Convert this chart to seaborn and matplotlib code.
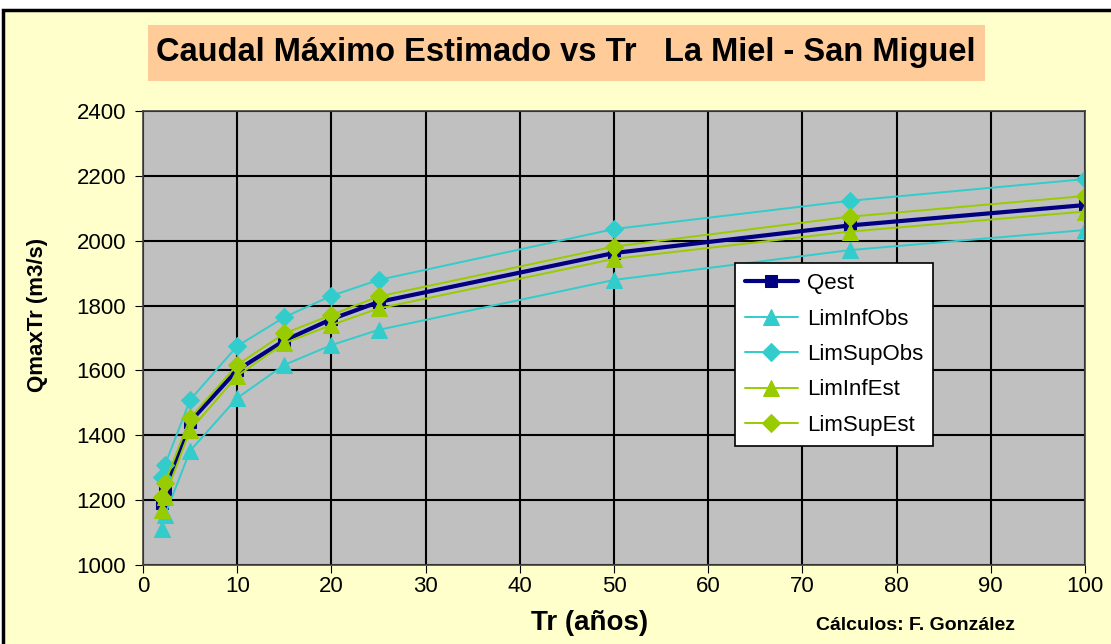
import numpy as np
import pandas as pd
import matplotlib
matplotlib.use("Agg")
import matplotlib.pyplot as plt
import seaborn as sns
from matplotlib.patches import Rectangle

# periodos de retorno y caudales
tr = [2, 2.33, 5, 10, 15, 20, 25, 50, 75, 100]
qest = [1191, 1231, 1442, 1601, 1692, 1758, 1811, 1962, 2047, 2110]
lim_inf_obs = [1111, 1154, 1352, 1515, 1617, 1678, 1725, 1879, 1971, 2033]
lim_sup_obs = [1272, 1308, 1509, 1675, 1764, 1830, 1879, 2036, 2123, 2190]
lim_inf_est = [1170, 1211, 1416, 1583, 1684, 1740, 1791, 1944, 2028, 2090]
lim_sup_est = [1211, 1253, 1453, 1617, 1714, 1771, 1828, 1982, 2074, 2138]

sns.set_style("white")
plt.rcParams['font.family'] = ['Liberation Sans', 'DejaVu Sans']
plt.rcParams['text.color'] = 'black'
plt.rcParams['axes.labelcolor'] = 'black'
plt.rcParams['xtick.color'] = 'black'
plt.rcParams['ytick.color'] = 'black'

W, H = 1111, 644
fig = plt.figure(figsize=(W / 100, H / 100), dpi=100)
fig.patch.set_facecolor("white")
# fondo amarillo con marco negro
fig.patches.append(Rectangle((3 / W, -0.01), 1.0, 1 - 10 / H + 0.01, transform=fig.transFigure,
                             facecolor="#FFFFCC", edgecolor="black", linewidth=2.5, zorder=-2))
# caja del titulo
fig.patches.append(Rectangle((148 / W, 1 - 81 / H), 837 / W, 56 / H, transform=fig.transFigure,
                             facecolor="#FFCC99", edgecolor="none", zorder=-1))

ax = fig.add_axes([143 / W, 1 - 565 / H, 942 / W, 454 / H])
ax.set_facecolor("#C0C0C0")

series = [
    ("Qest", qest, "#000080", "s", 3.0, 9),
    ("LimInfObs", lim_inf_obs, "#33CCCC", "^", 1.4, 12),
    ("LimSupObs", lim_sup_obs, "#33CCCC", "D", 1.4, 9),
    ("LimInfEst", lim_inf_est, "#99CC00", "^", 1.4, 12),
    ("LimSupEst", lim_sup_est, "#99CC00", "D", 1.4, 9),
]
for name, vals, col, mk, lw, ms in series:
    sns.lineplot(x=tr, y=vals, ax=ax, color=col, marker=mk, linewidth=lw,
                 markersize=ms, markeredgecolor=col, label=name)

ax.set_xlim(0, 100)
ax.set_ylim(1000, 2400)
ax.set_xticks(np.arange(0, 101, 10))
ax.set_yticks(np.arange(1000, 2401, 200))
ax.grid(True, color="black", linewidth=1.5)
ax.set_axisbelow(True)
for s in ax.spines.values():
    s.set_color("#404040")
    s.set_linewidth(1.2)
ax.tick_params(axis="both", labelsize=16, length=6, direction="out", color="black",
               left=True, bottom=True)
ax.tick_params(axis="x", pad=2)
ax.tick_params(axis="y", pad=6)

ax.set_xlabel("Tr (años)", fontsize=20, fontweight="bold")
ax.set_ylabel("QmaxTr (m3/s)", fontsize=16, fontweight="bold")
ax.xaxis.set_label_coords((590 - 143) / 942, (565 - 623) / 454)
ax.yaxis.set_label_coords((38 - 143) / 942, (565 - 315) / 454)
ax.xaxis.label.set_va("center")
ax.yaxis.label.set_va("center")

leg = ax.legend(loc="upper left", bbox_to_anchor=(0.628, 0.665), fontsize=16,
                frameon=True, fancybox=False, facecolor="white", edgecolor="black",
                framealpha=1, handlelength=2.4, handletextpad=0.4, labelspacing=0.65,
                borderpad=0.45, borderaxespad=0)
leg.get_frame().set_linewidth(1.2)

fig.text(566 / W, 1 - 53 / H, "Caudal Máximo Estimado vs Tr   La Miel - San Miguel",
         ha="center", va="center", fontsize=23.5, fontweight="bold")
fig.text(915 / W, 1 - 626 / H, "Cálculos: F. González", ha="center", va="center",
         fontsize=14, fontweight="bold")

fig.savefig("out.png", dpi=100, facecolor=fig.get_facecolor())
